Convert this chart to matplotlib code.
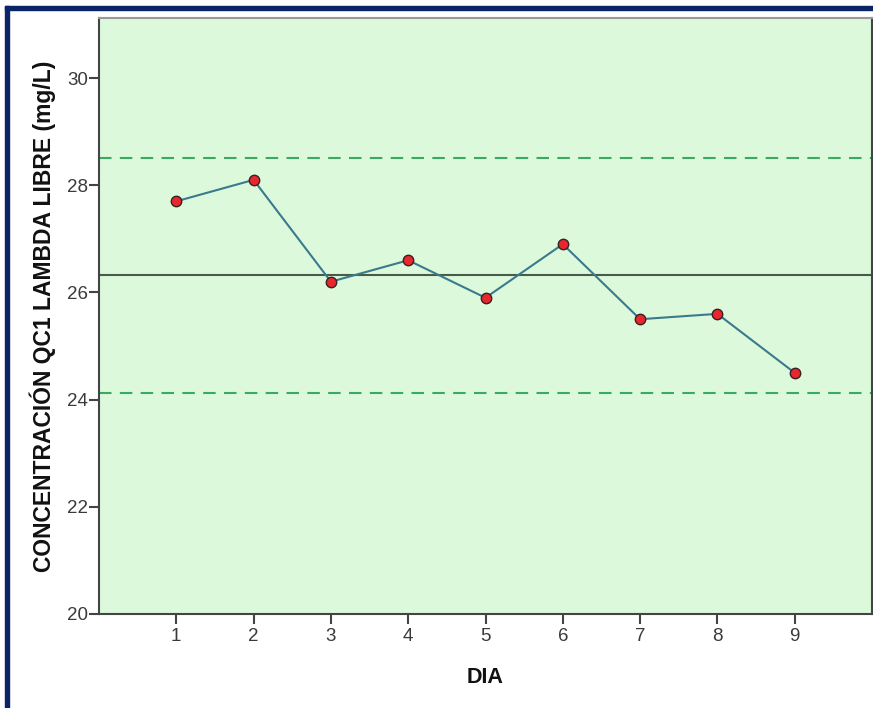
import matplotlib
matplotlib.use("Agg")
import matplotlib.pyplot as plt
from matplotlib.patches import Rectangle

dias = [1, 2, 3, 4, 5, 6, 7, 8, 9]
valores = [27.7, 28.1, 26.2, 26.6, 25.9, 26.9, 25.5, 25.6, 24.5]
media = 26.33
lim_sup = 28.5
lim_inf = 24.13
yticks = [20, 22, 24, 26, 28, 30]

plt.rcParams['font.family'] = ['Liberation Sans', 'DejaVu Sans']

fig = plt.figure(figsize=(8.73, 7.08), dpi=100)
W, H = 873, 708
ax = fig.add_axes([99 / W, 1 - 614 / H, (872 - 99) / W, (614 - 18) / H])
ax.set_facecolor('#dcf9dc')

ax.axhline(media, color='#4a5a4a', lw=1.5, zorder=2)
ax.axhline(lim_sup, color='#3aaa60', lw=1.5, ls=(0, (6, 4)), zorder=2)
ax.axhline(lim_inf, color='#3aaa60', lw=1.5, ls=(0, (6, 4)), zorder=2)
ax.plot(dias, valores, color='#3a7a8c', lw=1.5, zorder=3,
        marker='o', markersize=7.5, markerfacecolor='#e8262e',
        markeredgecolor='#3a2020', markeredgewidth=1.0)

ax.set_xlim(0, 10)
ax.set_ylim(20, 31.12)
ax.set_xticks(dias)
ax.set_yticks(yticks)
ax.tick_params(axis='both', direction='out', length=7, width=1.5,
               color='#444444', labelcolor='#3a3a3a', labelsize=13.5)
ax.tick_params(axis='y', pad=1)
ax.tick_params(axis='x', pad=3)

for s in ['left', 'bottom', 'right']:
    ax.spines[s].set_color('#444444')
    ax.spines[s].set_linewidth(1.5)
ax.spines['top'].set_color('#999999')
ax.spines['top'].set_linewidth(1.5)

ax.set_xlabel('DIA', fontsize=15.5, fontweight='bold', color='#111111', labelpad=16)
ax.set_ylabel('CONCENTRACIÓN QC1 LAMBDA LIBRE (mg/L)', fontsize=16.5,
              fontweight='bold', color='#111111', labelpad=8)

# navy frame at left and top
fig.patches.append(Rectangle((5 / W, 0), 4 / W, 1 - 6 / H, transform=fig.transFigure,
                             color='#0b2466', zorder=10))
fig.patches.append(Rectangle((5 / W, 1 - 10 / H), 1 - 5 / W, 4 / H, transform=fig.transFigure,
                             color='#0b2466', zorder=10))

fig.savefig('out.png', dpi=100)
